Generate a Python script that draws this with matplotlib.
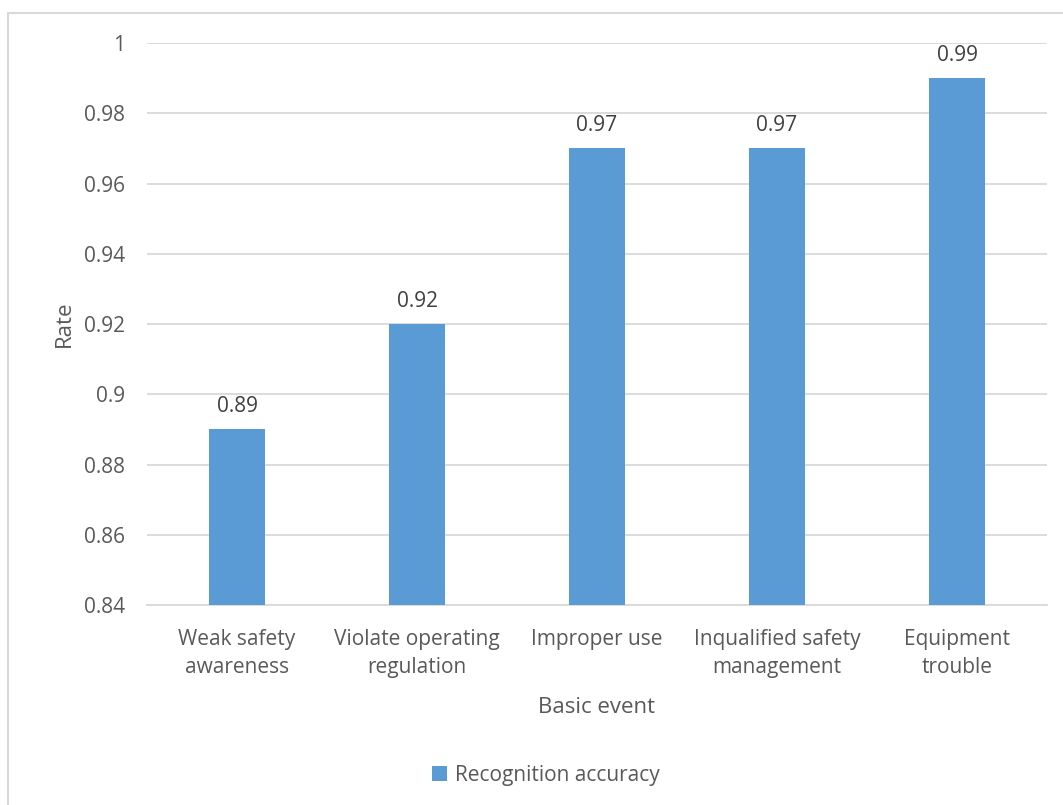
import numpy as np
import matplotlib.pyplot as plt
from matplotlib.patches import Rectangle

plt.rcParams['font.family'] = ['Open Sans', 'DejaVu Sans']

categories = ['Weak safety\nawareness', 'Violate operating\nregulation', 'Improper use',
              'Inqualified safety\nmanagement', 'Equipment\ntrouble']
accuracy = [0.89, 0.92, 0.97, 0.97, 0.99]
yticks = [0.84, 0.86, 0.88, 0.90, 0.92, 0.94, 0.96, 0.98, 1.00]
ytick_labels = ['0.84', '0.86', '0.88', '0.9', '0.92', '0.94', '0.96', '0.98', '1']

text_color = '#595959'
bar_color = '#5B9BD5'
grid_color = '#D9D9D9'

fig = plt.figure(figsize=(10.63, 8.05), dpi=100)
ax = fig.add_axes([147 / 1063, 1 - 605 / 805, 900 / 1063, 562 / 805])

x = np.arange(len(categories))
bars = ax.bar(x, accuracy, width=0.31, color=bar_color, zorder=3,
              label='Recognition accuracy')

# подписи значений над столбцами
for xi, v in zip(x, accuracy):
    ax.text(xi, v + 0.0035, f'{v:g}', ha='center', va='bottom',
            fontsize=15, color='#404040')

ax.set_xlim(-0.5, len(categories) - 0.5)
ax.set_ylim(0.84, 1.0)
ax.set_yticks(yticks)
ax.set_yticklabels(ytick_labels)
ax.set_xticks(x)
ax.set_xticklabels(categories, linespacing=1.45)
ax.tick_params(axis='both', length=0, labelsize=15, labelcolor=text_color)
ax.tick_params(axis='y', pad=16)
ax.tick_params(axis='x', pad=17)
ax.grid(axis='y', color=grid_color, linewidth=1.3, zorder=0)
for s in ['top', 'right', 'left']:
    ax.spines[s].set_visible(False)
ax.spines['bottom'].set_color(grid_color)
ax.spines['bottom'].set_linewidth(1.3)

ax.set_xlabel('Basic event', fontsize=16, color=text_color, labelpad=14)
ax.set_ylabel('Rate', fontsize=16, color=text_color, labelpad=6)

fig.legend(handles=[bars], loc='center', bbox_to_anchor=(546 / 1063, 1 - 775 / 805),
           frameon=False, fontsize=15, labelcolor=text_color,
           handlelength=0.7, handleheight=0.7, handletextpad=0.4)

# рамка области диаграммы
fig.patches.append(Rectangle((8 / 1063, -0.1), 1.2, 1 - 13 / 805 + 0.1,
                             transform=fig.transFigure, fill=False,
                             edgecolor=grid_color, linewidth=1.5))

fig.savefig('out.png', dpi=100, facecolor='white')
